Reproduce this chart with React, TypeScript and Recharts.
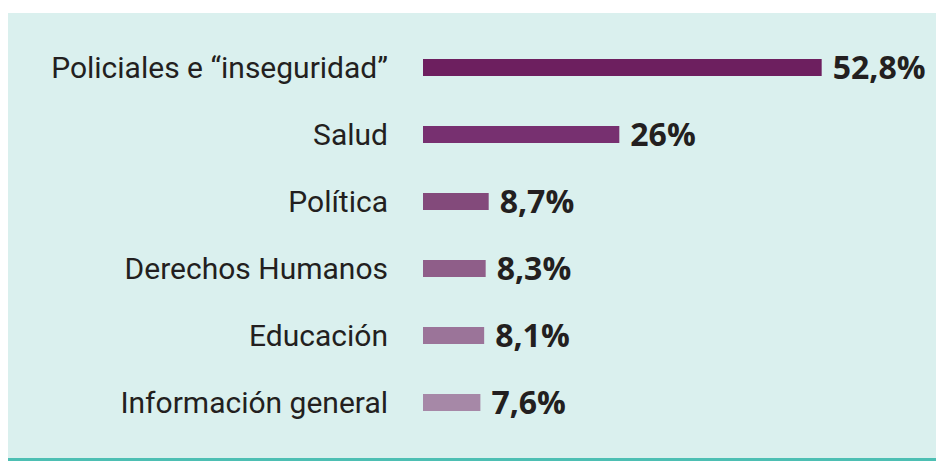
import * as React from "react";
import { Bar, BarChart, Cell, LabelList, XAxis, YAxis } from "recharts";

const categories = [
  "Policiales e \u201cinseguridad\u201d",
  "Salud",
  "Política",
  "Derechos Humanos",
  "Educación",
  "Información general",
];
const values = [52.8, 26, 8.7, 8.3, 8.1, 7.6];
const valueLabels = ["52,8%", "26%", "8,7%", "8,3%", "8,1%", "7,6%"];
const barColors = ["#6d1f5f", "#773070", "#834a7b", "#8f5e89", "#9b7499", "#a688a7"];

const TEXT = "#231f20";

const data = categories.map((name, i) => ({ name, value: values[i], label: valueLabels[i] }));

export default function App() {
  return (
    <div
      style={{
        marginTop: 5,
        width: 936,
        height: 445,
        background: "#daf0ee",
        borderBottom: "3px solid #4dbfb3",
      }}
    >
      <BarChart
        layout="vertical"
        width={936}
        height={445}
        data={data}
        margin={{ top: 21, right: 0, bottom: 22, left: 0 }}
        barCategoryGap={25}
      >
        <XAxis type="number" domain={[0, 69]} hide />
        <YAxis
          type="category"
          dataKey="name"
          width={415}
          axisLine={false}
          tickLine={false}
          tickSize={0}
          tickMargin={35}
          tick={{ fontSize: 30, fill: TEXT, fontFamily: "Roboto, sans-serif" }}
        />
        <Bar dataKey="value" barSize={17} isAnimationActive={false}>
          {data.map((d, i) => (
            <Cell key={d.name} fill={barColors[i]} />
          ))}
          <LabelList
            dataKey="label"
            position="right"
            offset={11}
            style={{
              fontSize: 32,
              fontWeight: 700,
              fill: TEXT,
              fontFamily: "'Open Sans', sans-serif",
            }}
          />
        </Bar>
      </BarChart>
    </div>
  );
}
